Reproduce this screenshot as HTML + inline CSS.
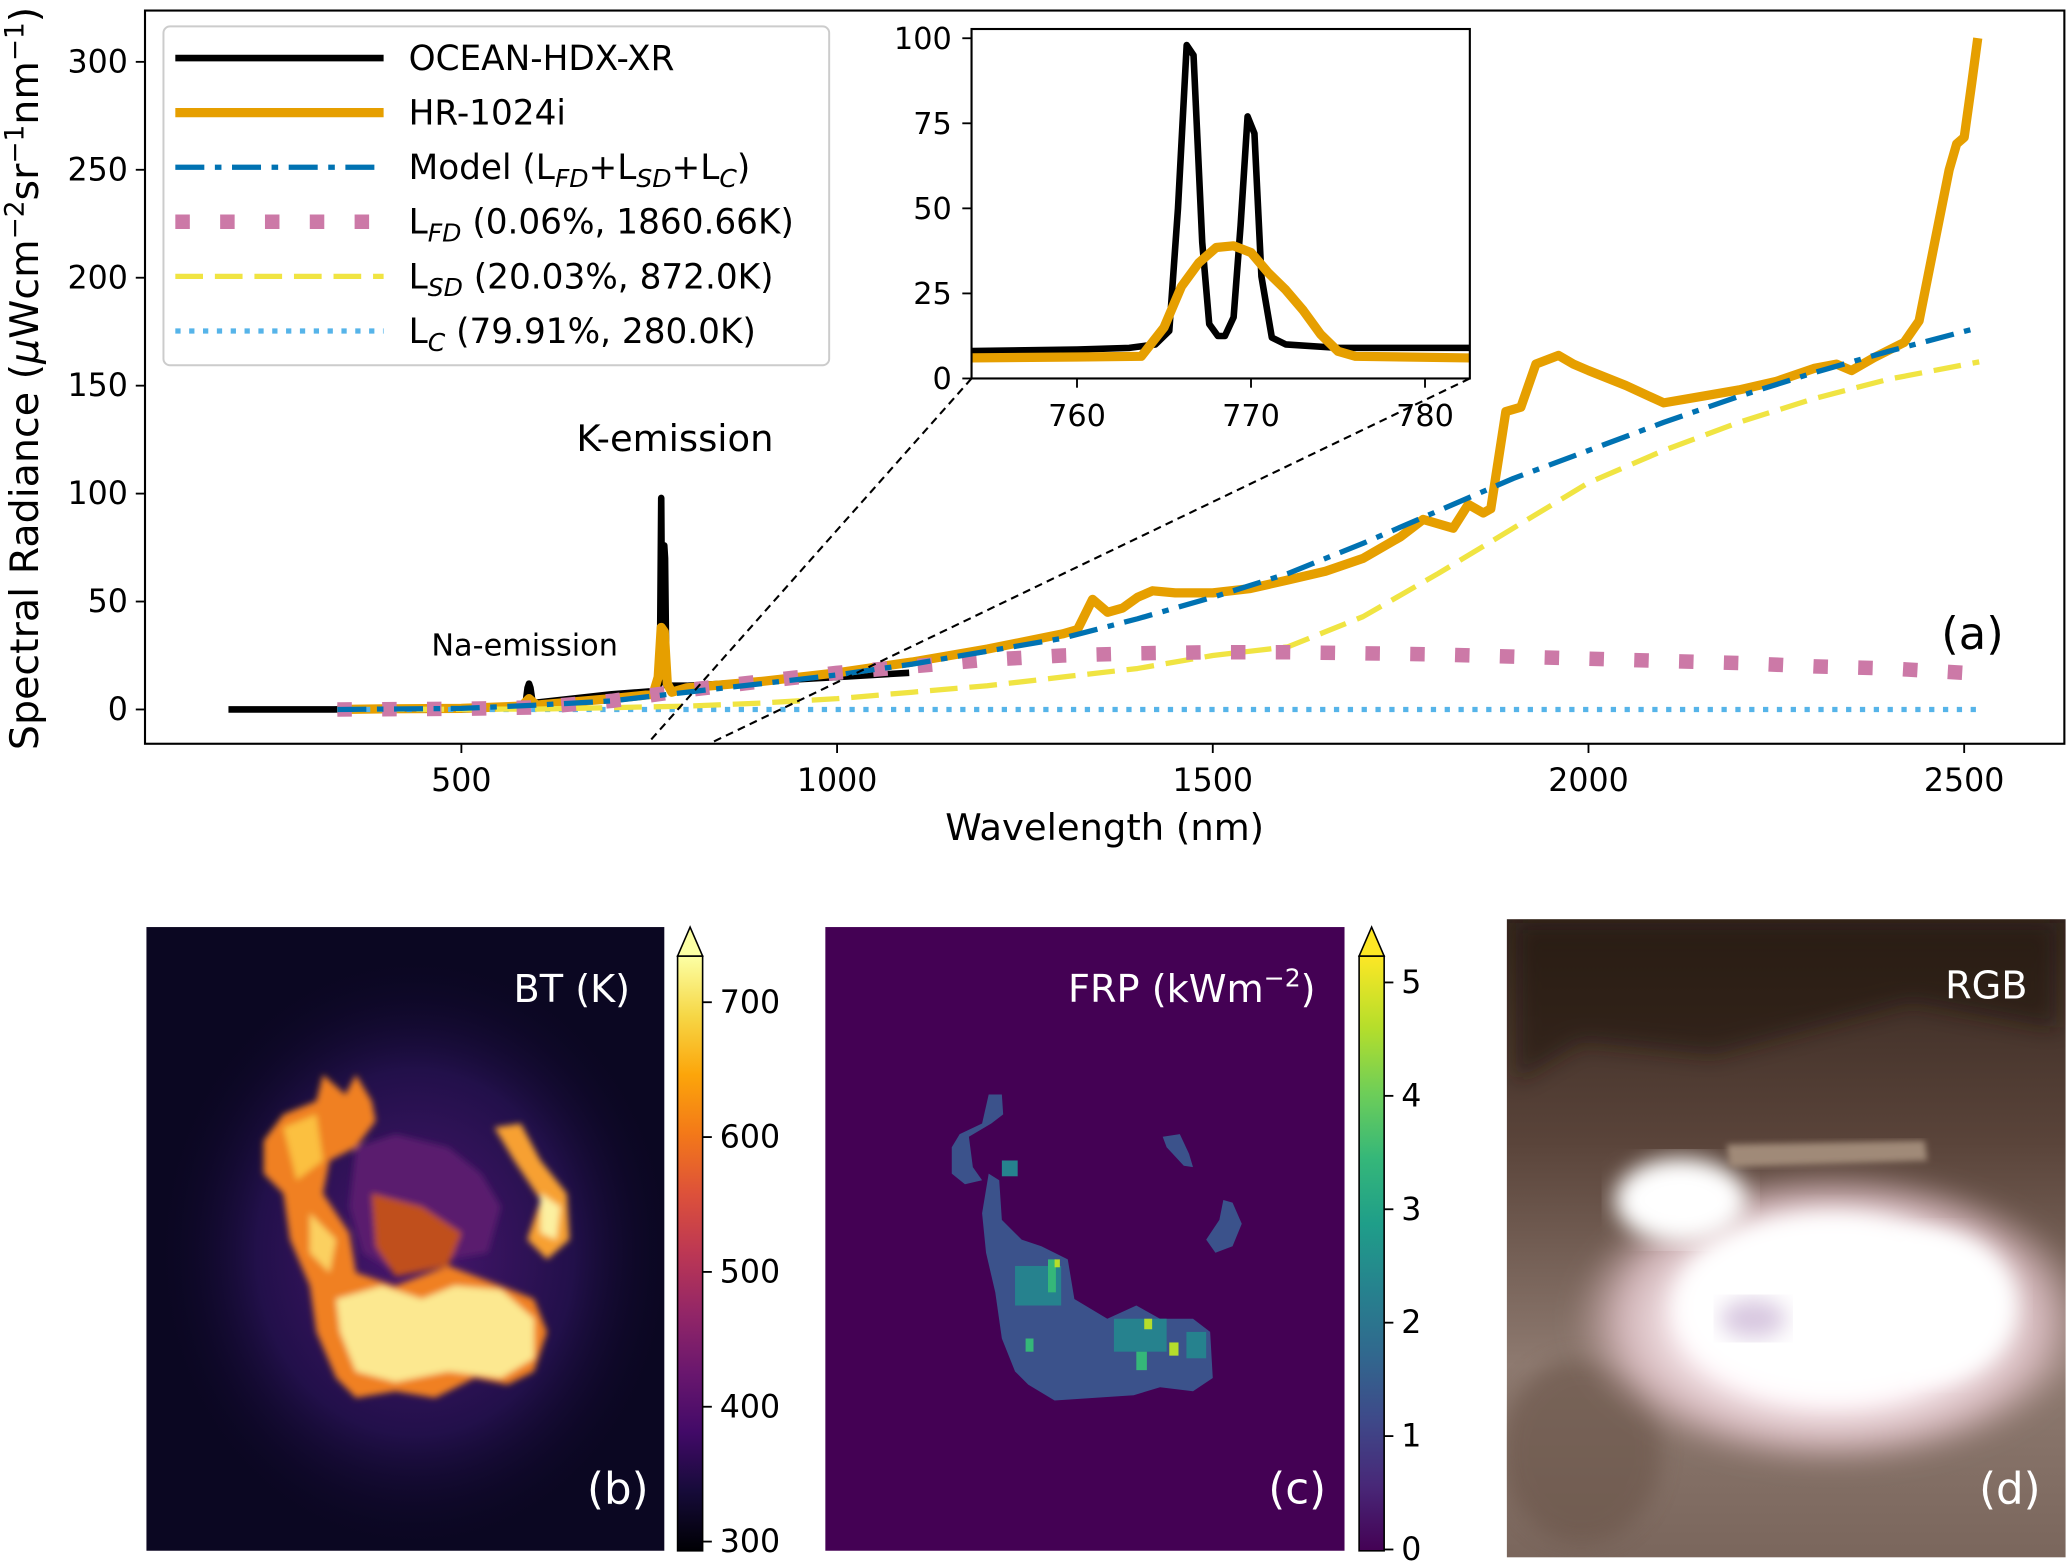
<!DOCTYPE html>
<html><head><meta charset="utf-8"><style>
html,body{margin:0;padding:0;background:#fff;}
svg{display:block;font-family:"DejaVu Sans","Liberation Sans",sans-serif;}
</style></head><body>
<svg id="fig" width="2067" height="1564" viewBox="0 0 1568 1186" preserveAspectRatio="none" xmlns="http://www.w3.org/2000/svg">
<defs>
<clipPath id="mainClip"><rect x="110" y="8" width="1456" height="556"/></clipPath>
<clipPath id="insetClip"><rect x="737" y="22" width="378" height="265"/></clipPath>
<clipPath id="bClip"><rect x="111" y="703" width="393" height="473"/></clipPath>
<clipPath id="cClip"><rect x="626" y="703" width="394" height="473"/></clipPath>
<clipPath id="dClip"><rect x="1143" y="697" width="424" height="484"/></clipPath>
<linearGradient id="inferno" x1="0" y1="1" x2="0" y2="0">
<stop offset="0" stop-color="#000004"/><stop offset="0.1" stop-color="#160b39"/><stop offset="0.2" stop-color="#420a68"/><stop offset="0.3" stop-color="#6a176e"/><stop offset="0.4" stop-color="#932667"/><stop offset="0.5" stop-color="#bc3754"/><stop offset="0.6" stop-color="#dd513a"/><stop offset="0.7" stop-color="#f37819"/><stop offset="0.8" stop-color="#fca50a"/><stop offset="0.9" stop-color="#f6d746"/><stop offset="1" stop-color="#fcffa4"/>
</linearGradient>
<linearGradient id="viridis" x1="0" y1="1" x2="0" y2="0">
<stop offset="0" stop-color="#440154"/><stop offset="0.11" stop-color="#482878"/><stop offset="0.22" stop-color="#3e4989"/><stop offset="0.33" stop-color="#31688e"/><stop offset="0.44" stop-color="#26828e"/><stop offset="0.55" stop-color="#1f9e89"/><stop offset="0.66" stop-color="#35b779"/><stop offset="0.77" stop-color="#6ece58"/><stop offset="0.88" stop-color="#b5de2b"/><stop offset="1" stop-color="#fde725"/>
</linearGradient>
<radialGradient id="btGlow" cx="0.5" cy="0.5" r="0.5"><stop offset="0" stop-color="#4a1670"/><stop offset="0.6" stop-color="#22104a"/><stop offset="1" stop-color="#0a0620" stop-opacity="0"/></radialGradient>
<radialGradient id="rgbGlow" cx="0.5" cy="0.5" r="0.5"><stop offset="0" stop-color="#ffffff"/><stop offset="0.55" stop-color="#fff4f8"/><stop offset="0.8" stop-color="#f0d0d8" stop-opacity="0.7"/><stop offset="1" stop-color="#c8a8a8" stop-opacity="0"/></radialGradient>
<linearGradient id="rgbBg" x1="0" y1="0" x2="0" y2="1"><stop offset="0" stop-color="#35261f"/><stop offset="0.35" stop-color="#5a443a"/><stop offset="0.7" stop-color="#8e7a70"/><stop offset="1" stop-color="#7a665c"/></linearGradient>
<filter id="blur3"><feGaussianBlur stdDeviation="2.5"/></filter>
<filter id="blur8"><feGaussianBlur stdDeviation="8"/></filter>
</defs>
<rect x="0" y="0" width="1568" height="1186" fill="#fff"/>
<g id="mainPlot"></g>
<text font-size="30" text-anchor="middle" transform="translate(29,287) rotate(-90)">Spectral Radiance (<tspan font-style="italic">μ</tspan>Wcm<tspan dy="-11" font-size="20">−2</tspan><tspan dy="11">sr</tspan><tspan dy="-11" font-size="20">−1</tspan><tspan dy="11">nm</tspan><tspan dy="-11" font-size="20">−1</tspan><tspan dy="11">)</tspan></text>
<g id="legend">
<rect x="124" y="20" width="505" height="257" rx="5" fill="#fff" fill-opacity="0.85" stroke="#ccc" stroke-width="1.5"/>
<g id="legLines"></g>
<text x="310" y="53" font-size="26">OCEAN-HDX-XR</text>
<text x="310" y="94.4" font-size="26">HR-1024i</text>
<text x="310" y="135.8" font-size="26">Model (L<tspan dy="6" font-size="19" font-style="italic">FD</tspan><tspan dy="-6">+L</tspan><tspan dy="6" font-size="19" font-style="italic">SD</tspan><tspan dy="-6">+L</tspan><tspan dy="6" font-size="19" font-style="italic">C</tspan><tspan dy="-6">)</tspan></text>
<text x="310" y="177.2" font-size="26">L<tspan dy="6" font-size="19" font-style="italic">FD</tspan><tspan dy="-6"> (0.06%, 1860.66K)</tspan></text>
<text x="310" y="218.6" font-size="26">L<tspan dy="6" font-size="19" font-style="italic">SD</tspan><tspan dy="-6"> (20.03%, 872.0K)</tspan></text>
<text x="310" y="260" font-size="26">L<tspan dy="6" font-size="19" font-style="italic">C</tspan><tspan dy="-6"> (79.91%, 280.0K)</tspan></text>
</g>
<g id="insetPlot"></g>

<!-- Panel b: BT image -->
<g>
<g clip-path="url(#bClip)">
<rect x="111" y="703" width="393" height="473" fill="#0b0722"/>
<ellipse cx="315" cy="950" rx="200" ry="230" fill="url(#btGlow)"/>
<g filter="url(#blur3)">
<path d="M200,865 L215,845 L240,835 L245,815 L262,830 L270,815 L282,835 L285,850 L270,870 L250,880 L245,905 L265,935 L270,965 L300,975 L340,960 L380,975 L405,985 L415,1010 L405,1040 L385,1050 L360,1045 L330,1060 L300,1055 L270,1060 L255,1045 L240,1010 L235,975 L220,940 L215,905 L200,890 Z" fill="#f08020"/>
<path d="M375,855 L395,852 L410,880 L430,905 L432,940 L415,955 L400,940 L410,910 L390,880 Z" fill="#f7a030"/>
<path d="M270,870 L300,860 L340,870 L365,890 L380,915 L370,950 L340,955 L300,965 L275,950 L265,915 Z" fill="#5a1a6e"/>
<path d="M282,905 L320,915 L350,935 L340,960 L300,968 L285,945 Z" fill="#c0501e"/>
<path d="M255,985 L290,975 L320,985 L345,975 L380,978 L405,1000 L405,1030 L380,1045 L340,1040 L300,1048 L270,1040 L258,1010 Z" fill="#fce890"/>
<path d="M215,855 L240,845 L245,880 L225,895 Z" fill="#fbc040"/>
<path d="M235,920 L255,940 L250,965 L235,950 Z" fill="#fbd060"/>
<path d="M410,905 L425,915 L422,940 L410,935 Z" fill="#fcf0a0"/>
</g>
</g>
<text x="478" y="760" font-size="29" fill="#fff" text-anchor="end">BT (K)</text>
<text x="492" y="1140" font-size="33" fill="#fff" text-anchor="end">(b)</text>
</g>
<g>
<rect x="514" y="725" width="19" height="451" fill="url(#inferno)" stroke="#000" stroke-width="1.2"/>
<path d="M514,725 L523.5,703 L533,725 Z" fill="#fcffa4" stroke="#000" stroke-width="1.2"/>
<g id="btTicks"></g>
</g>

<!-- Panel c: FRP image -->
<g>
<g clip-path="url(#cClip)">
<rect x="626" y="703" width="394" height="473" fill="#440154"/>
<g fill="#3b528b">
<path d="M750,830 L760,830 L761,845 L752,852 L735,862 L738,885 L745,895 L732,898 L722,890 L722,870 L728,860 L745,852 Z"/>
<path d="M750,890 L758,895 L760,925 L775,940 L790,945 L810,955 L815,985 L840,1000 L862,990 L880,1000 L905,1000 L918,1010 L920,1045 L905,1055 L880,1052 L860,1058 L830,1060 L800,1062 L780,1050 L770,1040 L760,1015 L755,980 L748,950 L745,920 Z"/>
<path d="M882,862 L895,860 L902,875 L905,885 L898,884 L885,870 Z"/>
<path d="M928,910 L935,912 L942,928 L935,945 L922,950 L915,940 L925,925 Z"/>
</g>
<g fill="#26828e">
<rect x="770" y="960" width="35" height="30"/><rect x="845" y="1000" width="40" height="25"/><rect x="760" y="880" width="12" height="12"/><rect x="900" y="1010" width="15" height="20"/>
</g>
<g fill="#35b779">
<rect x="795" y="955" width="6" height="25"/><rect x="862" y="1025" width="8" height="14"/><rect x="778" y="1015" width="6" height="10"/>
</g>
<g fill="#b5de2b"><rect x="868" y="1000" width="6" height="8"/><rect x="887" y="1018" width="7" height="10"/><rect x="800" y="955" width="4" height="6"/></g>
</g>
<text x="998" y="760" font-size="29" fill="#fff" text-anchor="end">FRP (kWm<tspan dy="-12" font-size="19">−2</tspan><tspan dy="12">)</tspan></text>
<text x="1006" y="1140" font-size="33" fill="#fff" text-anchor="end">(c)</text>
</g>
<g>
<rect x="1031" y="725" width="19" height="451" fill="url(#viridis)" stroke="#000" stroke-width="1.2"/>
<path d="M1031,725 L1040.5,703 L1050,725 Z" fill="#fde725" stroke="#000" stroke-width="1.2"/>
<g id="frpTicks"></g>
</g>

<!-- Panel d: RGB photo -->
<g>
<g clip-path="url(#dClip)">
<rect x="1143" y="697" width="424" height="484" fill="url(#rgbBg)"/>
<g filter="url(#blur8)" opacity="0.6">
<path d="M1150,700 L1560,700 L1560,780 L1450,760 L1300,800 L1200,790 L1150,820 Z" fill="#24180f"/>
<ellipse cx="1200" cy="1100" rx="60" ry="70" fill="#6a5448"/>
</g>
<ellipse cx="1390" cy="1000" rx="200" ry="115" fill="url(#rgbGlow)" filter="url(#blur8)"/>
<ellipse cx="1275" cy="910" rx="50" ry="32" fill="#ffffff" filter="url(#blur8)"/>
<ellipse cx="1390" cy="990" rx="120" ry="70" fill="#ffffff" filter="url(#blur8)"/>
<ellipse cx="1470" cy="990" rx="60" ry="55" fill="#ffffff" filter="url(#blur8)"/>
<path d="M1310,868 L1460,865 L1462,880 L1312,885 Z" fill="#a08a78" filter="url(#blur3)"/>
<ellipse cx="1330" cy="1000" rx="25" ry="15" fill="#d8c8e0" filter="url(#blur8)"/>
</g>
<text x="1538" y="757" font-size="29" fill="#fff" text-anchor="end">RGB</text>
<text x="1548" y="1140" font-size="33" fill="#fff" text-anchor="end">(d)</text>
</g>

<script>
// ---- Main spectrum data ----
const hrWl  = [335,400,500,580,590,600,700,755,762,766,770,774,780,800,900,1000,1100,1200,1300,1320,1340,1360,1380,1400,1420,1450,1500,1550,1600,1650,1700,1750,1780,1800,1820,1840,1860,1870,1890,1910,1930,1960,1980,2000,2050,2100,2150,2200,2250,2300,2330,2350,2380,2420,2440,2460,2480,2490,2500,2510,2518];
const hrVal = [0,0.3,0.5,1.5,5,2,5,7,15,38,36,12,8,10,13,17,22,28,35,37,51,45,47,52,55,54,54,56,60,64,70,80,88,86,84,95,91,93,138,140,160,164,160,157,150,142,145,148,152,158,160,157,163,170,180,215,250,262,265,290,311];
const ocWl  = [190,330,500,585,588,590,592,595,700,755,764,766,767,768,769,770,771,773,800,900,1000,1096];
const ocVal = [0,0,1,1.5,10,12,10,3,7,8.5,12,98,40,13,25,76,70,11,11,13,15,17];
const modWl  = [335,500,600,700,800,900,1000,1100,1200,1300,1400,1500,1600,1700,1800,1900,2000,2100,2200,2300,2400,2520];
const modVal = [0,0.5,2,4,8,12,16,21,27,33,42,52,63,77,92,107,120,133,145,156,166,177];
const fdWl  = [335,500,600,700,800,900,1000,1100,1200,1300,1400,1500,1600,1700,1800,1900,2000,2100,2200,2300,2400,2500];
const fdVal = [0,0.3,1,4,9,13,17,20,23,25,26,26.5,26.5,26,25.5,24.5,23.5,22.5,21.5,20,19,17];
const sdWl  = [335,600,800,900,1000,1100,1200,1300,1400,1500,1600,1700,1800,1900,2000,2100,2200,2300,2400,2520];
const sdVal = [0,0.2,1.5,3,5,8,11,15,19,25,29,43,63,84,105,120,133,144,153,161];
const cWl  = [335,2520];
const cVal = [0,0];
const xTicks = [500,1000,1500,2000,2500];
const yTicks = [0,50,100,150,200,250,300];
// ---- Inset data ----
const inOcWl  = [753,760,763,764.5,765.3,765.8,766.3,766.7,767.2,767.6,768.1,768.5,769,769.4,769.8,770.2,770.6,771.2,772,775,783];
const inOcVal = [8,8.5,9,10,14,50,98,95,40,16,12.5,12.5,18,45,77,72,30,12,10,9,9];
const inHrWl  = [753,760,763.7,765,766,767,768,769,770,771,772,773,774,775,776,783];
const inHrVal = [6,6.3,6.5,15,27,34,38.5,39,37,31,26,20,13,8,6.5,6];
const inXTicks = [760,770,780];
const inYTicks = [0,25,50,75,100];
// ---- Colorbar ticks ----
const btTickVals = [300,400,500,600,700];
const frpTickVals = [0,1,2,3,4,5];

const NS = "http://www.w3.org/2000/svg";
function mk(tag, attrs, parent){const e=document.createElementNS(NS,tag);for(const k in attrs)e.setAttribute(k,attrs[k]);parent.appendChild(e);return e;}
const X = w => 350 + (w-500)*0.57;
const Y = v => 538 - v*1.637;
const IX = w => 817 + (w-760)*13.2;
const IY = v => 287 - v*2.58;

const main = document.getElementById('mainPlot');
function series(parent, wl, val, fx, fy, style, clip, name){
  const pts = wl.map((w,i)=>fx(w).toFixed(1)+','+fy(val[i]).toFixed(1)).join(' ');
  const a = Object.assign({points:pts, fill:'none', 'clip-path':'url(#'+clip+')', 'stroke-linejoin':'round'}, style);
  const p = mk('polyline', a, parent);
  
  
  return p;
}
const stHR = {stroke:'#E69F00','stroke-width':7};
const stOC = {stroke:'#000','stroke-width':5};
const stMod = {stroke:'#0072B2','stroke-width':4,'stroke-dasharray':'22 8 5 8'};
const stFD = {stroke:'#CC79A7','stroke-width':11,'stroke-dasharray':'11 23'};
const stSD = {stroke:'#F0E442','stroke-width':4,'stroke-dasharray':'21 9'};
const stC = {stroke:'#56B4E9','stroke-width':4,'stroke-dasharray':'4 6.5'};

series(main, ocWl, ocVal, X, Y, stOC, 'mainClip', 'ocean-hdx-xr-line');
series(main, hrWl, hrVal, X, Y, stHR, 'mainClip', 'hr-1024i-line');
series(main, cWl, cVal, X, Y, stC, 'mainClip', 'lc-line');
series(main, sdWl, sdVal, X, Y, stSD, 'mainClip', 'lsd-line');
series(main, fdWl, fdVal, X, Y, stFD, 'mainClip', 'lfd-line');
series(main, modWl, modVal, X, Y, stMod, 'mainClip', 'model-line');

let cl1 = mk('line',{x1:737,y1:287,x2:492,y2:563,stroke:'#000','stroke-width':1.6,'stroke-dasharray':'6 4'},main);


let cl2 = mk('line',{x1:1115,y1:287,x2:540,y2:563,stroke:'#000','stroke-width':1.6,'stroke-dasharray':'6 4'},main);



let fr = mk('rect',{x:110,y:8,width:1456,height:556,fill:'none',stroke:'#000','stroke-width':1.6},main);


xTicks.forEach(t=>{
  mk('line',{x1:X(t),y1:564,x2:X(t),y2:571,stroke:'#000','stroke-width':1.4},main);
  const tx = mk('text',{x:X(t),y:600,'font-size':24,'text-anchor':'middle'},main);
  tx.textContent = t;
  
  
});
yTicks.forEach(t=>{
  mk('line',{x1:103,y1:Y(t),x2:110,y2:Y(t),stroke:'#000','stroke-width':1.4},main);
  const tx = mk('text',{x:97,y:Y(t)+8,'font-size':24,'text-anchor':'end'},main);
  tx.textContent = t;
  
  
});
function txt(parent, x, y, size, content, name, extra){
  const t = mk('text', Object.assign({x:x,y:y,'font-size':size}, extra||{}), parent);
  t.textContent = content;
  
  
  return t;
}
txt(main, 838, 637, 28, 'Wavelength (nm)', 'x-axis-title', {'text-anchor':'middle'});
txt(main, 512, 342, 28, 'K-emission', 'k-emission-label', {'text-anchor':'middle'});
txt(main, 398, 497, 23, 'Na-emission', 'na-emission-label', {'text-anchor':'middle'});
txt(main, 1520, 492, 34, '(a)', 'panel-label-a', {'text-anchor':'end'});

// legend sample lines
const legLines = document.getElementById('legLines');
const legStyles = [stOC, stHR, stMod, stFD, stSD, stC];
const legNames = ['legend-line-ocean','legend-line-hr1024i','legend-line-model','legend-line-lfd','legend-line-lsd','legend-line-lc'];
legStyles.forEach((s,i)=>{
  const yy = 44 + i*41.4;
  const l = mk('line',Object.assign({x1:133,y1:yy,x2:291,y2:yy},s),legLines);
  
  
});

// inset
const ins = document.getElementById('insetPlot');
mk('rect',{x:737,y:22,width:378,height:265,fill:'#fff'},ins);
series(ins, inOcWl, inOcVal, IX, IY, {stroke:'#000','stroke-width':5}, 'insetClip', 'inset-ocean-line');
series(ins, inHrWl, inHrVal, IX, IY, {stroke:'#E69F00','stroke-width':7}, 'insetClip', 'inset-hr1024i-line');
let ifr = mk('rect',{x:737,y:22,width:378,height:265,fill:'none',stroke:'#000','stroke-width':1.6},ins);


inXTicks.forEach(t=>{
  mk('line',{x1:IX(t),y1:287,x2:IX(t),y2:294,stroke:'#000','stroke-width':1.4},ins);
  const tx = mk('text',{x:IX(t),y:323,'font-size':23,'text-anchor':'middle'},ins);
  tx.textContent = t;
  
  
});
inYTicks.forEach(t=>{
  mk('line',{x1:730,y1:IY(t),x2:737,y2:IY(t),stroke:'#000','stroke-width':1.4},ins);
  const tx = mk('text',{x:722,y:IY(t)+8,'font-size':23,'text-anchor':'end'},ins);
  tx.textContent = t;
  
  
});

// colorbar ticks
const BY = v => 1169 - (v-300)*1.0225;
const FY = v => 1175 - v*86;
const bt = document.getElementById('btTicks');
btTickVals.forEach(v=>{
  mk('line',{x1:533,y1:BY(v),x2:540,y2:BY(v),stroke:'#000','stroke-width':1.4},bt);
  const t = mk('text',{x:546,y:BY(v)+8,'font-size':24},bt);
  t.textContent = v;
  
  
});
const fp = document.getElementById('frpTicks');
frpTickVals.forEach(v=>{
  mk('line',{x1:1050,y1:FY(v),x2:1057,y2:FY(v),stroke:'#000','stroke-width':1.4},fp);
  const t = mk('text',{x:1063,y:FY(v)+8,'font-size':24},fp);
  t.textContent = v;
  
  
});
</script>
</svg>
</body></html>
